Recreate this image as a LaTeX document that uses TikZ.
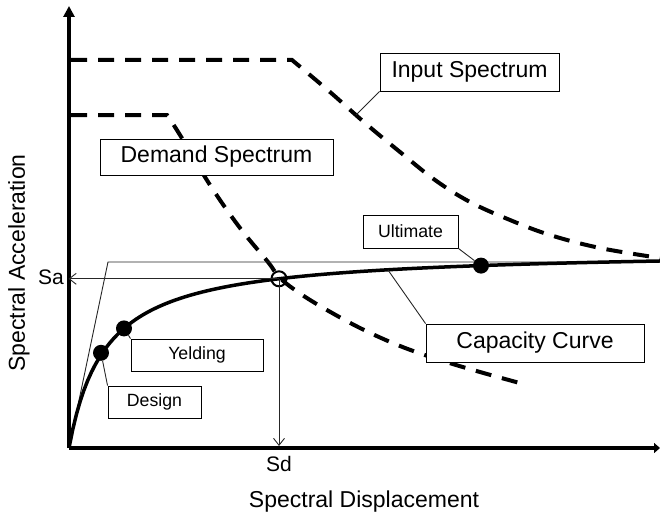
\documentclass[tikz,border=0pt]{standalone}
\usepackage{fontspec}
\setmainfont{Liberation Sans}
\usetikzlibrary{arrows.meta}
\begin{document}
\begin{tikzpicture}[x=1pt,y=-1pt,
  axis/.style={line width=3.5pt},
  spectrum/.style={line width=4pt,dash pattern=on 16pt off 11pt},
  capacity/.style={line width=3.5pt},
  thinline/.style={line width=0.9pt,black!85},
  readout/.style={thinline,-{Straight Barb[length=7pt,width=11pt,line width=0.9pt]}},
  bigbox/.style={draw,line width=0.9pt,fill=white,inner sep=0pt,font=\fontsize{23}{27}\selectfont},
  smallbox/.style={draw,line width=0.9pt,fill=white,inner sep=0pt,font=\fontsize{17.7}{21}\selectfont},
  dot/.style={circle,fill=black,inner sep=0pt,minimum size=16pt},
  perf/.style={circle,draw,line width=2pt,inner sep=0pt,minimum size=15pt},
  lbl/.style={inner sep=0pt,font=\fontsize{23}{27}\selectfont},
  axlbl/.style={inner sep=0pt,font=\fontsize{21}{25}\selectfont}]
\useasboundingbox (0,0) rectangle (660,516);

% origin and axis ends
\coordinate (O) at (69,448);
\coordinate (ytip) at (69,6);
\coordinate (xtip) at (660,448);

% input and demand spectra (dashed)
\draw[spectrum] (71,60) -- plot[smooth,tension=0.6] coordinates {(292,60) (330,92) (365,123) (400,152) (435,180) (470,202) (510,220) (550,235) (600,248) (660,258)};
\draw[spectrum] (71,115) -- plot[smooth,tension=0.6] coordinates {(167,115) (180,135) (210,185) (240,228) (268,262) (279,277) (295,290) (320,306) (360,328) (400,346) (440,360) (480,372) (527,385)};
\coordinate (inpt) at (356,115);

% axes
\draw[axis,-{Triangle[length=11pt,width=11pt]}] (O) -- (ytip);
\draw[axis,-{Triangle[length=6pt,width=10pt]}] (O) -- (xtip);

% idealised bilinear curve
\coordinate (bk) at (108,262);
\coordinate (bkend) at (660,262);
\draw[thinline] (O) -- (bk) -- (bkend);

% capacity curve
\draw[capacity] plot[domain=0:591,samples=160] ({69+\x},{448-198.5*(\x/(36.3+\x))});
\coordinate (capt) at (388,270);

% performance point and read-out arrows
\node[perf] (pp) at (279,278.8) {};
\draw[readout,shorten >=-0.5pt] (pp.center) -- (pp.center -| O);
\draw[readout,shorten >=2pt] (pp.center) -- (pp.center |- O);

% damage states on the capacity curve
\node[dot] (dsn) at (101,352.8) {};
\node[dot] (yld) at (124,328.4) {};
\node[dot] (ult) at (481,265.6) {};

% labelled boxes
\node[bigbox,minimum width=179pt,minimum height=38pt] (inbox) at (469.5,72) {Input Spectrum};
\node[bigbox,minimum width=233pt,minimum height=36pt] (dmbox) at (216.5,157) {Demand Spectrum};
\node[bigbox,minimum width=218pt,minimum height=38pt] (cpbox) at (535,343) {Capacity Curve};
\node[smallbox,minimum width=95pt,minimum height=33pt] (ulbox) at (410.5,231.5) {Ultimate};
\node[smallbox,minimum width=132pt,minimum height=32pt] (ydbox) at (197,355) {Yelding};
\node[smallbox,minimum width=93pt,minimum height=32pt] (dgbox) at (154.5,402) {Design};

% leaders
\draw[thinline] (inbox.south west) -- (inpt);
\draw[thinline] (ulbox.south east) -- (ult);
\draw[thinline] (cpbox.north west) -- (capt);
\draw[thinline] (ydbox.north west) -- (yld);
\draw[thinline] (dgbox.north west) -- (dsn);

% axis texts
\node[axlbl,anchor=east] (sa) at (64,277) {Sa};
\node[axlbl] (sd) at (279,464) {Sd};
\node[lbl] (xl) at (364,502) {Spectral Displacement};
\node[lbl,rotate=90] (yl) at (19,263) {Spectral Acceleration};
\end{tikzpicture}
\end{document}
